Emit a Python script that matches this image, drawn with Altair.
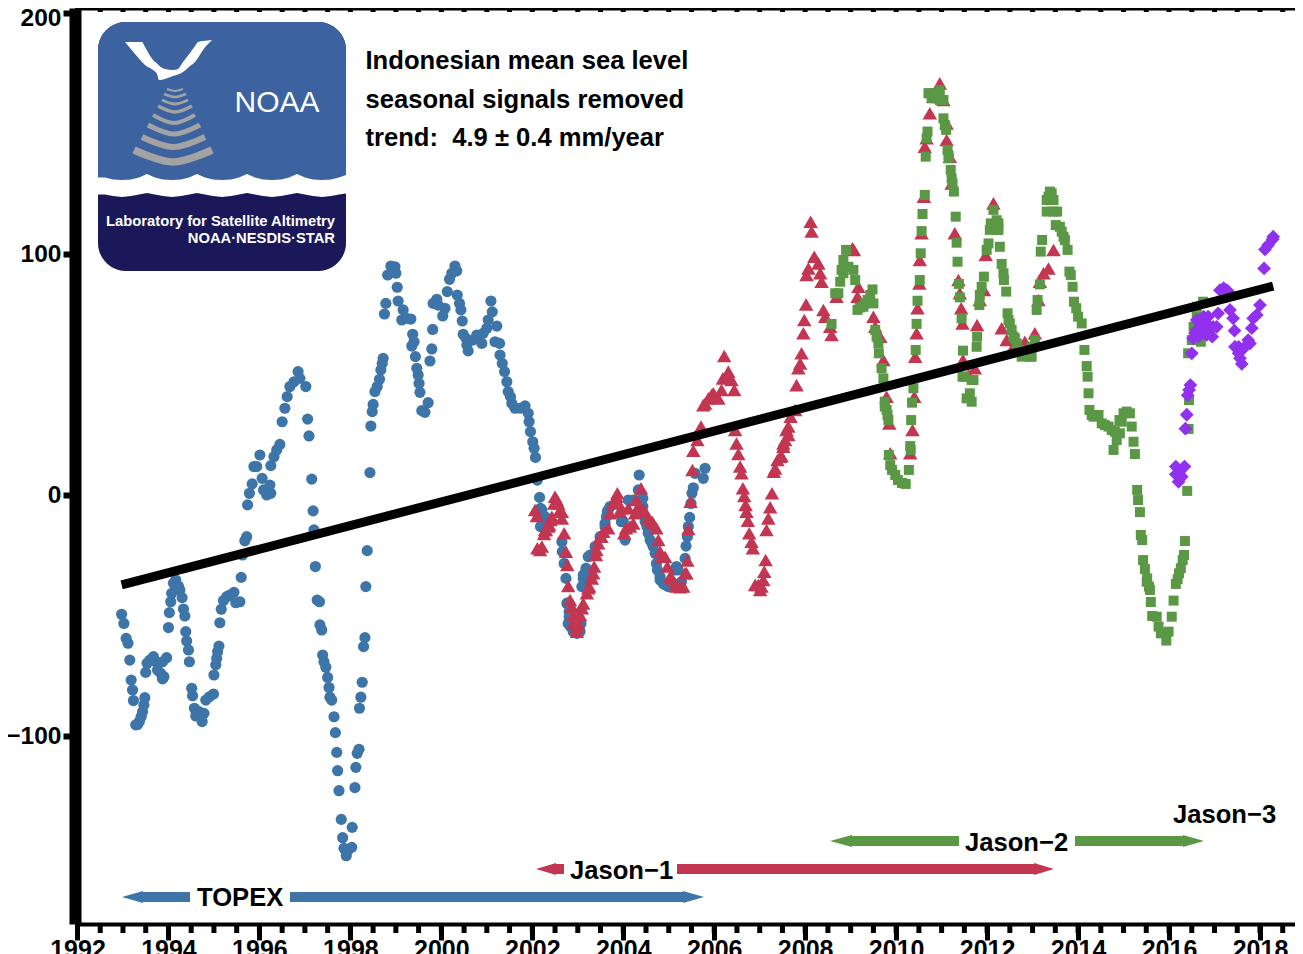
import altair as alt
import pandas as pd

# (year, sea level in mm)
topex = [(1992.97,-49.5),(1993.02,-53.3),(1993.07,-59.5),(1993.11,-61.5),(1993.15,-68.5),(1993.18,-76.8),(1993.21,-80.9),(1993.23,-85.3),(1993.28,-95.4),(1993.32,-95.2),(1993.36,-94),(1993.40,-92),(1993.43,-89.9),(1993.46,-87.1),(1993.48,-84.1),(1993.50,-73.6),(1993.53,-69.8),(1993.59,-68.5),(1993.67,-67.1),(1993.72,-69.2),(1993.76,-72.6),(1993.83,-74),(1993.87,-76.3),(1993.90,-75.4),(1993.87,-69.2),(1993.96,-67.5),
(1994.00,-55),(1994.02,-48.8),(1994.05,-44.3),(1994.07,-40.8),(1994.11,-36.6),(1994.16,-35.3),(1994.22,-37.8),(1994.25,-39.4),(1994.30,-42.6),(1994.33,-47.3),(1994.36,-50.2),(1994.38,-56.7),(1994.40,-60.6),(1994.44,-64.3),(1994.46,-69.2),(1994.51,-80.2),(1994.53,-83.3),(1994.57,-88.5),(1994.60,-91.7),(1994.67,-89.9),(1994.74,-94),(1994.78,-90.6),(1994.82,-85.1),(1994.90,-83.7),(1994.99,-82.6),
(1995.00,-74.7),(1995.04,-70.5),(1995.06,-67.8),(1995.08,-65),(1995.11,-62.7),(1995.13,-53),(1995.16,-47.4),(1995.21,-43.8),(1995.28,-42.2),(1995.35,-41.5),(1995.44,-40.4),(1995.48,-44.7),(1995.57,-44.3),(1995.60,-34.2),(1995.63,-24.9),(1995.68,-19),(1995.72,-17.3),(1995.74,-4.1),(1995.78,0.7),(1995.84,4.6),(1995.88,11.8),(1995.94,11.8),
(1996.01,16.6),(1996.06,6.9),(1996.09,2.1),(1996.16,0),(1996.25,0.7),(1996.23,4.1),(1996.25,12.2),(1996.32,15.9),(1996.38,18.7),(1996.45,21),(1996.50,30.4),(1996.56,36),(1996.61,40.8),(1996.67,45),(1996.76,47),(1996.85,51.2),(1996.89,48.4),
(1997.02,45),(1997.06,31.5),(1997.09,24.5),(1997.15,6.6),(1997.18,-6.6),(1997.20,-14.5),(1997.23,-29.7),(1997.27,-43.6),(1997.32,-44.3),(1997.33,-53.9),(1997.37,-56),(1997.39,-66.4),(1997.42,-69.2),(1997.46,-71.5),(1997.50,-75.7),(1997.53,-79.9),(1997.55,-83.9),(1997.59,-85.1),(1997.64,-92),(1997.67,-98.6),(1997.70,-106.8),(1997.72,-114.4),(1997.75,-122.7),(1997.80,-134.6),(1997.83,-142.2),(1997.86,-146.6),(1997.91,-149.7),(1997.95,-147.3),
(1998.03,-146.2),(1998.04,-137.9),(1998.10,-121.4),(1998.12,-113),(1998.15,-107.2),(1998.19,-105.5),(1998.20,-88.5),(1998.23,-83.9),(1998.26,-77.7),(1998.29,-62.9),(1998.32,-59.2),(1998.34,-38),(1998.37,-23.1),(1998.43,9.3),(1998.45,28.6),(1998.48,34.6),(1998.50,37.6),(1998.54,42.9),(1998.59,45),(1998.64,48),(1998.67,51.9),(1998.70,54.6),(1998.72,56.7),(1998.75,75.1),(1998.78,79.5),(1998.82,91.3),(1998.89,95),(1998.98,94.7),
(1999.00,92),(1999.03,86.2),(1999.05,80.5),(1999.16,76.8),(1999.13,72.6),(1999.24,73.3),(1999.33,73),(1999.37,66.7),(1999.40,63.6),(1999.35,61.8),(1999.43,57.4),(1999.46,52.6),(1999.49,49.8),(1999.51,46.3),(1999.53,42.6),(1999.71,38.3),(1999.64,34.3),(1999.57,35),(1999.75,55.6),(1999.79,60.6),(1999.81,68.7),(1999.82,79.5),(1999.90,81.2),(1999.93,78.8),
(2000.08,77.5),(2000.03,74.3),(2000.13,84.4),(2000.18,89.5),(2000.23,92),(2000.30,95),(2000.34,93),(2000.35,83),(2000.40,79.5),(2000.43,76.8),(2000.46,72.2),(2000.48,66.7),(2000.54,65),(2000.56,62.2),(2000.59,59.8),(2000.69,64.3),(2000.78,66.4),(2000.89,62.9),(2000.92,67.1),
(2001.00,69.2),(2001.03,72.6),(2001.12,76),(2001.09,80.5),(2001.22,70.1),(2001.18,63.6),(2001.28,62.9),(2001.29,58.1),(2001.34,54.6),(2001.39,51.2),(2001.44,47),(2001.47,42.9),(2001.52,40.8),(2001.55,38),(2001.62,36),(2001.73,36),(2001.84,37),(2001.91,33.9),(2001.93,30.4),(2001.96,26.3),
(2002.01,22.1),(2002.04,19.4),(2002.07,15.6),(2002.11,6.2),(2002.16,-1),(2002.21,-6.2),(2002.28,-9),(2002.18,-13.1),(2002.39,-10.4),(2002.18,-5.5),(2002.24,-9),(2002.21,-13.1),(2002.35,-11.8),(2002.65,-19.4),(2002.66,-23.5),(2002.70,-28.4),(2002.74,-34.6),(2002.76,-45),(2002.78,-44.7),(2002.79,-53.3),(2002.81,-48.4),(2002.81,-50.5),(2002.84,-54.6),(2002.90,-56.7),(2002.98,-57.4),
(2003.05,-56.7),(2003.07,-53.3),(2003.09,-38),(2003.12,-33.2),(2003.12,-34.6),(2003.16,-32.5),(2003.18,-30.4),(2003.23,-25.6),(2003.27,-24.9),(2003.38,-21.4),(2003.49,-17.3),(2003.60,-13.1),(2003.60,-11.8),(2003.63,-9),(2003.65,-6.9),(2003.67,-6.2),(2003.71,-4.8),(2003.96,-11.1),(2004.00,-11),
(2004.04,-18.7),(2004.11,-2.1),(2004.22,-2.1),(2004.33,2.1),(2004.35,8.3),(2004.43,-1.4),(2004.43,-4.8),(2004.48,-11),(2004.52,-13.1),(2004.55,-15.9),(2004.59,-18.7),(2004.63,-20),(2004.66,-21.4),(2004.70,-24.2),(2004.73,-28.4),(2004.75,-31.1),(2004.81,-33.9),(2004.81,-35.3),(2004.88,-36.7),(2004.92,-37.3),(2004.99,-38),
(2005.04,-38),(2005.14,-31.1),(2005.17,-29.7),(2005.21,-31.1),(2005.28,-36),(2005.36,-26.3),(2005.38,-21.2),(2005.41,-17.3),(2005.43,-13.1),(2005.46,-9.3),(2005.49,-3.5),(2005.51,0.7),(2005.54,3),(2005.58,9),(2005.76,6.9),(2005.80,11.1)]

jason1 = [(2002.06,-6.2),(2002.10,-8.7),(2002.11,-22.1),(2002.17,-22.8),(2002.21,-21.4),(2002.26,-16.2),(2002.28,-14.5),(2002.30,-14.5),(2002.35,-13.1),(2002.37,-12.4),(2002.40,-10.4),(2002.43,-9),(2002.48,-3.5),(2002.50,-0.7),(2002.54,-2.1),(2002.57,-3.5),(2002.61,-6.2),(2002.65,-9.7),(2002.65,-6.9),(2002.70,-15.9),(2002.74,-23.5),(2002.77,-29),(2002.79,-37.8),(2002.83,-43.6),(2002.87,-46.3),(2002.90,-49.8),(2002.90,-53.3),(2002.98,-54.6),(2002.98,-56.7),
(2003.01,-53.3),(2003.05,-49.8),(2003.09,-47),(2003.12,-45),(2003.20,-40.8),(2003.23,-38.7),(2003.25,-38),(2003.31,-34.6),(2003.34,-32.5),(2003.36,-29.7),(2003.40,-24.9),(2003.41,-22.8),(2003.45,-20),(2003.49,-17.3),(2003.52,-17.3),(2003.56,-15.2),(2003.67,-13.8),(2003.71,-7.6),(2003.78,-3.5),(2003.82,-2.1),(2003.85,-0.7),(2003.87,0.7),(2003.93,-6.9),(2003.96,-5.5),
(2004.02,-15.9),(2004.06,-13.8),(2004.11,-5.5),(2004.15,-13.1),(2004.22,-11.8),(2004.26,-7.6),(2004.29,-2.1),(2004.33,-4.8),(2004.39,2.8),(2004.44,-6.2),(2004.48,-6.9),(2004.55,-9.7),(2004.63,-11),(2004.66,-11.8),(2004.73,-13.8),(2004.77,-18.7),(2004.81,-23.5),(2004.85,-25.6),(2004.92,-25.6),(2004.97,-29.7),
(2005.03,-33.9),(2005.07,-34.6),(2005.14,-36.7),(2005.17,-38),(2005.25,-38.3),(2005.32,-38),(2005.36,-32.5),(2005.39,-32.5),(2005.41,-27.2),(2005.43,-14.1),(2005.48,-2.8),(2005.52,10.4),(2005.54,18.4),(2005.63,22.8),(2005.71,28.4),(2005.76,37.3),(2005.80,38),(2005.87,40.1),(2005.94,41.5),(2005.98,42.2),
(2006.02,40.8),(2006.09,40.1),(2006.16,43.6),(2006.19,48.4),(2006.31,51.2),(2006.31,49.1),(2006.38,47.7),(2006.44,43.6),(2006.22,57.7),(2006.46,27),(2006.49,21.4),(2006.53,17),(2006.57,11.8),(2006.60,9),(2006.63,2.8),(2006.66,-0.4),(2006.69,-4.1),(2006.71,-6.9),(2006.74,-10.7),(2006.77,-15.9),(2006.82,-19.4),(2006.85,-22.1),(2006.90,-37.3),(2006.97,-37.3),
(2007.01,-39.4),(2007.04,-38),(2007.08,-35.3),(2007.10,-31.8),(2007.13,-27),(2007.15,-14.5),(2007.19,-9.7),(2007.23,-5.1),(2007.27,0.7),(2007.31,9.7),(2007.34,11),(2007.39,14.5),(2007.45,15.9),(2007.48,16.2),(2007.52,21.4),(2007.52,20),(2007.56,22.8),(2007.59,27),(2007.63,28.4),(2007.63,24.9),(2007.68,32.5),(2007.78,35.3),(2007.81,45.6),(2007.85,52.6),(2007.89,54.6),(2007.92,58.8),(2007.96,67.1),(2007.98,72.6),
(2008.02,79.1),(2008.03,91.3),(2008.07,94),(2008.14,109.3),(2008.12,113.4),(2008.20,98.9),(2008.29,96.1),(2008.33,92),(2008.36,88.5),(2008.40,76.8),(2008.44,74),(2008.55,69.8),(2008.58,66.4),(2008.69,82.3),
(2009.04,102.4),(2009.07,101.7),(2009.17,86.4),(2009.15,82.3),(2009.50,74),(2009.54,69.8),(2009.65,65.7),(2009.72,56),(2009.79,40.8),(2009.85,29.7),(2009.87,17.3),
(2010.31,17.3),(2010.36,27),(2010.40,40.8),(2010.42,57.4),(2010.45,67.1),(2010.47,77.5),(2010.51,87.8),(2010.52,97.5),(2010.56,108.6),(2010.61,123.8),(2010.63,144.5),(2010.67,148),(2010.74,158.4),(2010.82,165.3),(2010.96,170.8),
(2011.04,163.9),(2011.11,154.2),(2011.11,147.3),(2011.18,140.4),(2011.22,129.3),(2011.29,108.6),(2011.37,89.2),(2011.40,83.7),(2011.43,77.5),(2011.46,71.2),(2011.47,56),(2011.59,49.8),(2011.73,52.6),(2011.78,70.5),(2011.84,80.9),(2011.93,85.1),(2011.97,99.6),
(2012.14,121),(2012.32,69.2),(2012.43,64.3),(2012.58,61.5),(2012.83,63.6),(2013.05,67.1),(2013.13,80.9),(2013.16,88.5),(2013.24,92),(2013.35,94),(2013.46,101.7)]

jason2 = [(2008.58,71),(2008.66,83.7),(2008.73,83.7),(2008.77,88.5),(2008.80,93.4),(2008.84,97.5),(2008.84,92),(2008.90,101.7),(2008.95,94.7),(2009.06,93.4),(2009.10,89.2),(2009.15,76.8),(2009.20,77.8),(2009.28,78.1),(2009.32,79.5),(2009.37,80.9),(2009.43,83),(2009.48,85.3),(2009.50,79.5),(2009.54,68.5),(2009.57,65.7),(2009.61,62.9),(2009.62,58.8),(2009.68,52.6),(2009.72,48.4),(2009.75,38.7),(2009.75,36.7),(2009.79,35.3),(2009.81,33.2),(2009.83,31.1),(2009.84,16.6),(2009.87,12.4),(2009.91,10.4),(2009.98,8.3),
(2010.04,6.2),(2010.13,5),(2010.21,4.6),(2010.28,10.4),(2010.32,18.7),(2010.31,20.3),(2010.33,31.1),(2010.35,38.3),(2010.38,44.3),(2010.43,60.2),(2010.45,71),(2010.47,80.6),(2010.52,89.2),(2010.54,100.3),(2010.56,109.5),(2010.58,116.6),(2010.63,124.5),(2010.65,140.4),(2010.67,148),(2010.69,150.8),(2010.71,166.7),(2010.74,166.7),(2010.78,164.6),(2010.85,166.7),(2010.89,164.6),(2010.96,168),(2010.96,163.9),
(2011.04,163.9),(2011.04,156.3),(2011.07,153.5),(2011.10,151.5),(2011.13,143.2),(2011.15,141),(2011.16,139.7),(2011.20,134.9),(2011.22,131.4),(2011.24,129.3),(2011.27,125.9),(2011.31,115.5),(2011.33,104.7),(2011.35,96.8),(2011.38,87.6),(2011.40,82),(2011.44,73.3),(2011.46,49.1),(2011.47,59.9),(2011.50,49.1),(2011.55,40.1),(2011.62,42.2),(2011.66,38.7),(2011.66,47.7),(2011.70,47.7),(2011.77,61.5),(2011.78,65.7),(2011.83,78.8),(2011.84,83),(2011.88,86.4),(2011.93,90.6),(2011.99,101.7),
(2012.03,104.4),(2012.06,110),(2012.08,112.7),(2012.14,118.3),(2012.14,111.3),(2012.21,114),(2012.25,112.7),(2012.21,110),(2012.25,110),(2012.28,103),(2012.32,95.9),(2012.36,92),(2012.37,89.2),(2012.42,84.4),(2012.45,75.4),(2012.47,72.6),(2012.50,71.2),(2012.54,68.5),(2012.58,65.7),(2012.61,65),(2012.65,62.9),(2012.72,60.2),(2012.76,57.4),(2012.83,58),(2012.91,58.8),(2012.94,57.4),(2012.98,57.4),(2012.98,61.5),
(2013.05,64.3),(2013.09,76.8),(2013.11,80.9),(2013.16,87.4),(2013.18,101),(2013.21,105.8),(2013.31,117.6),(2013.31,122.4),(2013.35,123.8),(2013.38,125.9),(2013.42,125.2),(2013.46,122.4),(2013.46,117.6),(2013.54,117.6),(2013.51,112),(2013.60,111.3),(2013.64,109.3),(2013.68,107.2),(2013.71,105.8),(2013.77,101.7),(2013.81,92.7),(2013.84,91.3),(2013.88,86.4),(2013.91,80.2),(2013.96,77.5),
(2014.00,74),(2014.08,71.2),(2014.14,60.2),(2014.19,53.5),(2014.21,49.1),(2014.23,42.2),(2014.25,35.3),(2014.30,33.2),(2014.34,32.5),(2014.45,33.2),(2014.52,29.7),(2014.59,29),(2014.67,28.4),(2014.74,27),(2014.81,26.3),(2014.91,31.1),(2014.92,25.6),(2014.78,18.7),(2014.85,22.8),(2014.96,30.4),
(2015.00,33.9),(2015.07,34.6),(2015.14,33.9),(2015.18,28.4),(2015.22,22.1),(2015.25,17),(2015.30,2.1),(2015.32,-2.1),(2015.36,-7.1),(2015.38,-16.6),(2015.41,-18.7),(2015.43,-27),(2015.47,-30.7),(2015.52,-34.6),(2015.51,-36),(2015.56,-38),(2015.58,-39.4),(2015.60,-44.4),(2015.63,-50.2),(2015.73,-50.5),(2015.77,-54.6),(2015.82,-57.4),(2015.94,-60.4),(2015.99,-56.7),
(2016.06,-50.5),(2016.10,-43.8),(2016.15,-36.9),(2016.19,-34.9),(2016.22,-32.5),(2016.26,-30.4),(2016.30,-27),(2016.33,-24.9),(2016.35,-19.1),(2016.40,1.7),(2016.43,27.4),(2016.44,39.4),(2016.42,58.8),(2016.50,64.3),(2016.54,69.8),(2016.61,78.1),(2016.75,80.2),(2016.70,63.6),(2016.61,74)]

jason3 = [(2016.15,11.8),(2016.34,11.8),(2016.24,10.1),(2016.15,8.6),(2016.28,7.6),(2016.21,5.5),(2016.36,27.5),(2016.39,33.3),(2016.41,41.4),(2016.44,43.6),(2016.47,45.6),(2016.50,58.8),(2016.53,65),(2016.61,72.6),(2016.61,68.5),(2016.70,69.8),(2016.74,67.1),(2016.75,69.8),(2016.86,74),(2016.83,66.4),(2016.83,69.8),(2016.95,65.7),(2016.97,69.8),(2016.57,67.1),(2016.76,74),(2016.90,69.8),(2016.64,65.7),
(2017.05,69.8),(2017.08,75.4),(2017.12,85),(2017.20,85.8),(2017.27,85),(2017.30,84.4),(2017.34,76.8),(2017.41,73.3),(2017.44,68.2),(2017.45,61.5),(2017.53,58.8),(2017.53,61.5),(2017.56,56.7),(2017.60,54.4),(2017.60,60.2),(2017.67,61.5),(2017.74,64.3),(2017.78,62.9),(2017.82,69.2),(2017.85,73.3),(2017.93,74.7),
(2018.00,78.8),(2018.09,94),(2018.11,101.9),(2018.18,103.7),(2018.28,106.1),(2018.29,107.2)]

trend_year = [1992.97, 2018.29]
trend_mm = [-37.3, 86.7]

major_years = list(range(1992, 2019, 2))
half_years = [1992 + 0.5 * i for i in range(0, 54)]
y_ticks = [-100, 0, 100, 200]

BLUE, RED, GREEN, PURPLE = "#3E75A8", "#C23651", "#5B9845", "#9130EE"
FONT = "Liberation Sans"


# picture position -> chart units, for annotations and the logo artwork
def YR(px):
    return 1992 + (px - 77.5) / 45.48


def MM(py):
    return (495 - py) / 2.41


X_D = [YR(75), YR(1295)]
Y_D = [MM(924), MM(8)]
xs = alt.Scale(domain=X_D, nice=False, zero=False)
ys = alt.Scale(domain=Y_D, nice=False, zero=False)
x_axis = alt.Axis(
    orient="bottom", values=major_years, format="d", title=None, grid=False,
    domainColor="black", domainWidth=4, tickColor="black", tickWidth=5,
    tickSize=16, labelFont=FONT, labelFontWeight="bold", labelFontSize=25,
    labelColor="black", labelPadding=-3, labelBaseline="top",
    labelOverlap=False, labelFlush=False, labelBound=False)
y_axis = alt.Axis(
    orient="left", values=y_ticks, title=None, grid=False,
    domainColor="black", domainWidth=12, tickColor="black", tickWidth=6,
    tickSize=12, labelFont=FONT, labelFontWeight="bold", labelFontSize=24.5,
    labelColor="black", labelPadding=2, labelOverlap=False, labelFlush=False,
    labelBound=False,
    labelOffset={"condition": {"test": "datum.value == 200", "value": 5}, "value": 0})
X = lambda f="x": alt.X(f"{f}:Q", scale=xs, axis=x_axis)
Y = lambda f="y": alt.Y(f"{f}:Q", scale=ys, axis=y_axis)


def df(xv, yv, **extra):
    d = {"x": xv, "y": yv}
    d.update(extra)
    return pd.DataFrame(d)


def rule(x0, y0, x1, y1, color, w):
    return alt.Chart(df([x0], [y0], x2=[x1], y2=[y1])).mark_rule(
        color=color, strokeWidth=w, strokeCap="butt"
    ).encode(x=X(), y=Y(), x2="x2:Q", y2="y2:Q")


def rect(x0, y0, x1, y1, color, **kw):
    return alt.Chart(df([YR(x0)], [MM(y0)], x2=[YR(x1)], y2=[MM(y1)])).mark_rect(
        color=color, **kw
    ).encode(x=X(), y=Y(), x2="x2:Q", y2="y2:Q")


def area(xp, top, bot, color, interp="linear"):
    d = df([YR(v) for v in xp], [MM(v) for v in top], y2=[MM(v) for v in bot])
    return alt.Chart(d).mark_area(color=color, opacity=1, interpolate=interp).encode(
        x=X(), y=Y(), y2="y2:Q"
    )


def text(s, px, py, size, color="black", bold=True, align="left"):
    return alt.Chart(df([YR(px)], [MM(py)])).mark_text(
        text=s, font=FONT, fontSize=size, fontWeight="bold" if bold else "normal",
        color=color, align=align, baseline="alphabetic",
    ).encode(x=X(), y=Y())


def series(points, shape, size, color):
    return alt.Chart(df([p[0] for p in points], [p[1] for p in points])).mark_point(
        shape=shape, size=size, color=color, filled=True, opacity=1
    ).encode(x=X(), y=Y())


layers = []

# tick marks drawn in chart units (half-year ticks below, short ticks along the top)
layers.append(alt.Chart(df(half_years, [Y_D[0]] * len(half_years),
                           y2=[Y_D[0] - 9 / 2.41] * len(half_years))).mark_rule(
    color="black", strokeWidth=5, strokeCap="butt").encode(x=X(), y=Y(), y2="y2:Q"))
layers.append(rule(X_D[0], Y_D[1], X_D[1], Y_D[1], "black", 5))
layers.append(alt.Chart(df(half_years, [Y_D[1]] * len(half_years),
                           y2=[Y_D[1] - 4 / 2.41] * len(half_years))).mark_rule(
    color="black", strokeWidth=5, strokeCap="butt").encode(x=X(), y=Y(), y2="y2:Q"))

# logo
LOGO_L, LOGO_R = 98, 346
layers.append(rect(LOGO_L, 22, LOGO_R, 271, "#1A1859", cornerRadius=28))
layers.append(rect(LOGO_L, 22, LOGO_R, 186, "#3C62A0",
                   cornerRadiusTopLeft=28, cornerRadiusTopRight=28))
wave_off = [0, 8, 16, 25, 34, 42]
wave_up = [174, 177.5, 179.5, 180, 179.5, 177.5]
wave_lo = [193, 194.5, 196, 197, 196, 194.5]
wave_x, wave_top, wave_bot = [98], [177.5], [194.5]
for crest in [97, 147, 197, 247, 297]:
    for o, u, b in zip(wave_off, wave_up, wave_lo):
        if 98 < crest + o < 346:
            wave_x.append(crest + o)
            wave_top.append(u)
            wave_bot.append(b)
wave_x.append(346)
wave_top.append(175)
wave_bot.append(193.5)
layers.append(area(wave_x, wave_top, wave_bot, "white"))
bird_x = [125, 135, 142, 145, 153, 157, 159, 165, 173, 178, 183, 190, 195, 198, 203, 212]
bird_top = [42, 42, 42, 47, 60, 63.5, 65.5, 69, 70, 69, 62, 53, 46, 42, 41, 40]
bird_bot = [42, 54, 62, 65, 70, 74, 80, 79, 76, 74.5, 72, 66, 62, 58, 50, 40]
layers.append(area(bird_x, bird_top, bird_bot, "white", "monotone"))
arc_specs = [
    (167, 183, 89, 91, 2), (164, 186, 94, 97, 2.5), (162, 188, 100, 104, 3),
    (158, 192, 106, 112, 3.5), (153, 195, 115, 123, 4), (148, 200, 125, 134, 5),
    (142, 205, 137, 147, 6), (134, 212, 150, 162, 7.5),
]
for l, r, ey, cy, w in arc_specs:
    m = (l + r) / 2
    d = df([YR(l), YR(m), YR(r)], [MM(ey), MM(cy), MM(ey)])
    layers.append(alt.Chart(d).mark_line(
        color="#A3A3A3", strokeWidth=w, interpolate="cardinal", strokeCap="butt"
    ).encode(x=X(), y=Y()))
layers.append(text("NOAA", 234.5, 112, 30, "white", bold=False))
layers.append(text("Laboratory for Satellite Altimetry", 335, 226, 14.75, "white", align="right"))
layers.append(text("NOAA·NESDIS·STAR", 335, 243, 14.75, "white", align="right"))

# header
layers.append(text("Indonesian mean sea level", 365.5, 69, 25.6))
layers.append(text("seasonal signals removed", 365.5, 108, 25.6))
layers.append(text("trend:\u00a0\u00a04.9 ± 0.4 mm/year", 365.5, 146, 25.6))

# series
layers.append(series(topex, "circle", 125, BLUE))
layers.append(series(jason1, "triangle-up", 210, RED))
layers.append(series(jason2, "square", 100, GREEN))
layers.append(series(jason3, "diamond", 190, PURPLE))

# trend
layers.append(rule(trend_year[0], trend_mm[0], trend_year[1], trend_mm[1], "black", 9))


# mission arrows
def mission(yp, tip_l, base_l, gap_l, gap_r, base_r, tip_r, color):
    return [
        rule(YR(base_l), MM(yp), YR(gap_l), MM(yp), color, 10),
        rule(YR(gap_r), MM(yp), YR(base_r), MM(yp), color, 10),
        area([tip_l, base_l], [yp, yp - 6], [yp, yp + 6], color),
        area([base_r, tip_r], [yp - 6, yp], [yp + 6, yp], color),
    ]


layers += mission(897, 122, 143, 190, 290, 683, 704, BLUE)
layers += mission(869, 536, 556, 564, 677, 1034, 1054, RED)
layers += mission(841, 830, 852, 959, 1075, 1183, 1204, GREEN)
layers.append(text("TOPEX", 197, 906, 25.6))
layers.append(text("Jason−1", 570, 879, 25.6))
layers.append(text("Jason−2", 965, 851, 25.6))
layers.append(text("Jason−3", 1173, 823, 25.6))

chart = alt.layer(*layers).properties(
    width=1220,
    height=916,
    padding={"left": 67, "top": 0, "right": 0, "bottom": 30},
    autosize=alt.AutoSizeParams(type="none"),
    background="white",
).configure_view(stroke=None)

chart.save("out.html", embed_options={"renderer": "svg", "actions": False})
